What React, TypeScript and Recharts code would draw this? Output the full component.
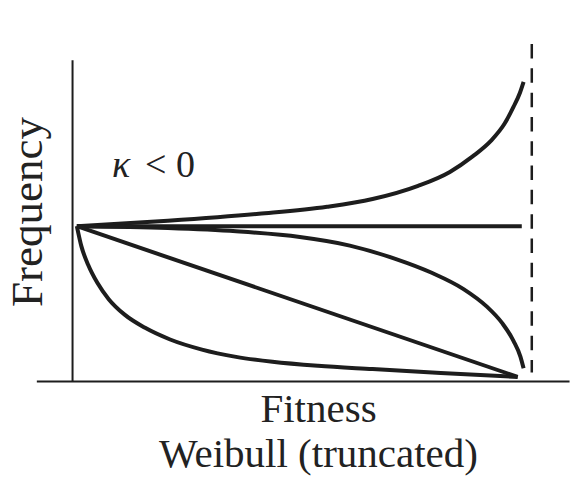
import { LineChart, Line, XAxis, YAxis, ReferenceLine } from "recharts";

// fitness runs 0..100, the truncation point sits at 100
// frequency: 100 = value at the lowest fitness

const rising = [
  { x: 0, y: 100 },
  { x: 20, y: 103.5 },
  { x: 40, y: 108 },
  { x: 55, y: 112.5 },
  { x: 65, y: 117.5 },
  { x: 75, y: 126 },
  { x: 82, y: 135 },
  { x: 87, y: 145 },
  { x: 91, y: 155 },
  { x: 94, y: 166 },
  { x: 96, y: 177 },
  { x: 97.4, y: 186 },
  { x: 98.2, y: 193 },
];

const flat = [
  { x: 0, y: 100 },
  { x: 97.8, y: 100 },
];

const concaveDecline = [
  { x: 0, y: 100 },
  { x: 20, y: 98.8 },
  { x: 35, y: 96.7 },
  { x: 49, y: 93 },
  { x: 60, y: 87.5 },
  { x: 70, y: 79 },
  { x: 78, y: 70 },
  { x: 85, y: 59.5 },
  { x: 90, y: 48.5 },
  { x: 93.5, y: 37.5 },
  { x: 96, y: 26 },
  { x: 97.5, y: 16 },
  { x: 98.2, y: 8.4 },
];

const linearDecline = [
  { x: 0, y: 100 },
  { x: 96.9, y: 2.9 },
];

const convexDecline = [
  { x: 0, y: 100 },
  { x: 1, y: 87 },
  { x: 2.5, y: 75 },
  { x: 4.5, y: 63.5 },
  { x: 7, y: 53 },
  { x: 10.5, y: 43 },
  { x: 15, y: 34.5 },
  { x: 20.5, y: 27 },
  { x: 27.5, y: 20.5 },
  { x: 35, y: 15.8 },
  { x: 43, y: 12.6 },
  { x: 53, y: 10 },
  { x: 65, y: 7.9 },
  { x: 80, y: 5.4 },
  { x: 96.9, y: 2.9 },
];

const curves = [rising, flat, concaveDecline, linearDecline, convexDecline];

const INK = "#1d1d1d";
const FONT = "'Liberation Serif', 'Times New Roman', serif";

export default function App() {
  return (
    <div style={{ position: "absolute", left: 0, top: 0, width: 571, height: 480, background: "#fff" }}>
      <LineChart width={571} height={480} margin={{ top: 40, right: 1, bottom: 80, left: 20 }}>
        <XAxis type="number" dataKey="x" domain={[-12.5, 108.4]} hide allowDataOverflow />
        <YAxis type="number" domain={[-12, 220]} hide allowDataOverflow />
        <ReferenceLine
          segment={[{ x: -8.8, y: 0 }, { x: 108.3, y: 0 }]}
          stroke={INK}
          strokeWidth={2}
          ifOverflow="visible"
        />
        <ReferenceLine
          segment={[{ x: -0.95, y: 0 }, { x: -0.95, y: 207 }]}
          stroke={INK}
          strokeWidth={2}
          ifOverflow="visible"
        />
        <ReferenceLine
          segment={[{ x: 100, y: 217.4 }, { x: 100, y: 5.8 }]}
          stroke={INK}
          strokeWidth={2.5}
          strokeDasharray="14.5 9.8"
          ifOverflow="visible"
        />
        {curves.map((d, i) => (
          <Line
            key={i}
            data={d}
            dataKey="y"
            type="monotone"
            dot={false}
            activeDot={false}
            stroke={INK}
            strokeWidth={4}
            isAnimationActive={false}
          />
        ))}
      </LineChart>
      <svg
        width={571}
        height={480}
        style={{ position: "absolute", left: 0, top: 0, pointerEvents: "none" }}
        fontFamily={FONT}
        fill="#222"
      >
        <text y={177} fontSize={38}>
          <tspan x={112} fontStyle="italic">κ</tspan>
          <tspan x={145}>&lt;</tspan>
          <tspan x={176}>0</tspan>
        </text>
        <text x={41.7} y={212} fontSize={45} textAnchor="middle" transform="rotate(-90 41.7 212)">
          Frequency
        </text>
        <text x={318.5} y={422} fontSize={41} textAnchor="middle">
          Fitness
        </text>
        <text x={318.5} y={467} fontSize={41} textAnchor="middle">
          Weibull (truncated)
        </text>
      </svg>
    </div>
  );
}
